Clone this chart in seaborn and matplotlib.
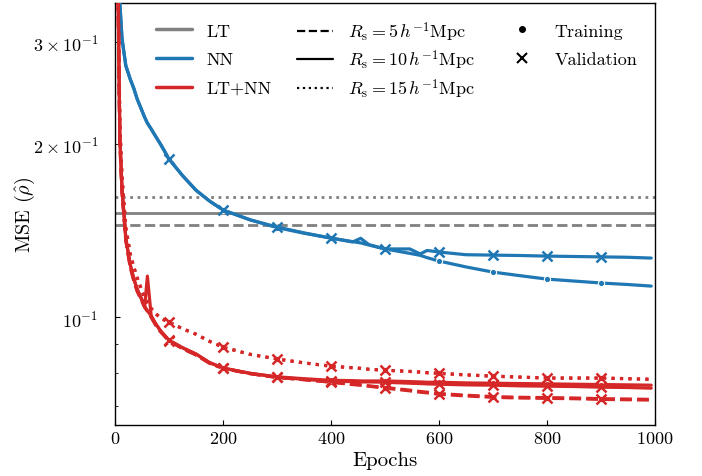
import matplotlib
matplotlib.use("Agg")
import matplotlib.pyplot as plt
import seaborn as sns
import pandas as pd
from matplotlib.lines import Line2D

# ---------------- data ----------------
EPOCHS = [1, 5, 7, 9, 13, 20, 28, 35, 41, 50, 55, 60, 67, 75, 85, 100, 125, 150, 175, 200,
          250, 300, 350, 400, 440, 455, 470, 500, 546, 565, 578, 600, 650, 700, 750, 800,
          850, 900, 950, 993]

RS_VALUES = [5, 10, 15]
LT_MSE = [0.1445, 0.1517, 0.1617]          # linear theory, one per R_s

NN_VAL = [0.70, 0.45, 0.39, 0.35, 0.304, 0.273, 0.259, 0.249, 0.239, 0.228, 0.222, 0.217, 0.212,
          0.206, 0.199, 0.188, 0.176, 0.166, 0.159, 0.1534, 0.1475, 0.1433, 0.1400, 0.1371,
          0.1350, 0.1370, 0.1336, 0.1313, 0.1313, 0.1287, 0.1305, 0.1297, 0.1283, 0.1281,
          0.1279, 0.1276, 0.1274, 0.1272, 0.1270, 0.1266]
NN_TRAIN = [0.70, 0.45, 0.39, 0.35, 0.304, 0.273, 0.259, 0.249, 0.239, 0.228, 0.222, 0.217, 0.212,
            0.206, 0.199, 0.188, 0.176, 0.166, 0.159, 0.1534, 0.1475, 0.1430, 0.1398, 0.1371,
            0.1352, 0.1345, 0.1334, 0.1313, 0.1290, 0.1280, 0.1268, 0.1251, 0.1222, 0.1197,
            0.1180, 0.1164, 0.1155, 0.1146, 0.1139, 0.1132]

LTNN_VAL_5 = [0.95, 0.41, 0.285, 0.200, 0.165, 0.136, 0.1225, 0.1155, 0.1110, 0.1065, 0.1040,
              0.1025, 0.1000, 0.0970, 0.0942, 0.0910, 0.0882, 0.0860, 0.0832, 0.0815, 0.0798,
              0.0786, 0.0779, 0.0771, 0.0764, 0.0762, 0.0759, 0.0753, 0.0745, 0.0741, 0.0739,
              0.0735, 0.0730, 0.0726, 0.0724, 0.0723, 0.0722, 0.0720, 0.0719, 0.0718]
LTNN_TRAIN_5 = [0.95, 0.41, 0.285, 0.200, 0.165, 0.136, 0.1225, 0.1155, 0.1110, 0.1065, 0.1040,
                0.1025, 0.1000, 0.0970, 0.0942, 0.0910, 0.0882, 0.0860, 0.0832, 0.0815, 0.0798,
                0.0786, 0.0779, 0.0772, 0.0765, 0.0763, 0.0760, 0.0755, 0.0747, 0.0743, 0.0741,
                0.0737, 0.0732, 0.0728, 0.0726, 0.0725, 0.0724, 0.0722, 0.0721, 0.0720]

LTNN_VAL_10 = [0.95, 0.42, 0.29, 0.205, 0.167, 0.137, 0.1235, 0.1164, 0.1118, 0.1070, 0.1045,
               0.1178, 0.1005, 0.0975, 0.0945, 0.0912, 0.0885, 0.0863, 0.0834, 0.0816, 0.0799,
               0.0787, 0.0780, 0.0774, 0.0773, 0.0772, 0.0772, 0.0771, 0.0768, 0.0767, 0.0766,
               0.0765, 0.0763, 0.0762, 0.0760, 0.0759, 0.0758, 0.0756, 0.0755, 0.0753]
LTNN_TRAIN_10 = [0.95, 0.42, 0.29, 0.205, 0.167, 0.137, 0.1235, 0.1164, 0.1118, 0.1070, 0.1045,
                 0.1025, 0.1005, 0.0975, 0.0945, 0.0912, 0.0885, 0.0863, 0.0834, 0.0816, 0.0799,
                 0.0788, 0.0782, 0.0777, 0.0776, 0.0775, 0.0775, 0.0775, 0.0773, 0.0772, 0.0771,
                 0.0771, 0.0769, 0.0768, 0.0767, 0.0766, 0.0765, 0.0764, 0.0763, 0.0762]

LTNN_VAL_15 = [0.95, 0.43, 0.30, 0.215, 0.175, 0.143, 0.129, 0.122, 0.117, 0.111, 0.108, 0.106,
               0.1035, 0.1015, 0.0995, 0.0980, 0.0955, 0.0934, 0.0908, 0.0887, 0.0862, 0.0846,
               0.0833, 0.0822, 0.0817, 0.0815, 0.0812, 0.0809, 0.0805, 0.0803, 0.0801, 0.0799,
               0.0794, 0.0790, 0.0787, 0.0784, 0.0784, 0.0784, 0.0782, 0.0780]
LTNN_TRAIN_15 = [0.95, 0.43, 0.30, 0.215, 0.175, 0.143, 0.129, 0.122, 0.117, 0.111, 0.108, 0.106,
                 0.1035, 0.1015, 0.0995, 0.0980, 0.0955, 0.0934, 0.0908, 0.0887, 0.0862, 0.0846,
                 0.0833, 0.0822, 0.0817, 0.0815, 0.0812, 0.0809, 0.0805, 0.0803, 0.0801, 0.0799,
                 0.0794, 0.0790, 0.0787, 0.0784, 0.0784, 0.0784, 0.0782, 0.0780]

MODEL_LABELS = ["LT", "NN", "LT+NN"]
SPLIT_LABELS = ["Training", "Validation"]

# ---------------- style ----------------
sns.set_style("ticks")
plt.rcParams.update({
    "font.family": "serif",
    "font.serif": ["cmr10", "DejaVu Serif"],
    "mathtext.fontset": "cm",
    "axes.formatter.use_mathtext": True,
    "font.size": 13,
    "xtick.labelsize": 13,
    "ytick.labelsize": 13,
    "axes.edgecolor": "black",
    "axes.labelcolor": "black",
    "text.color": "black",
    "xtick.color": "black",
    "ytick.color": "black",
    "xtick.direction": "in",
    "ytick.direction": "in",
    "axes.linewidth": 1.0,
    "xtick.major.size": 3.5,
    "ytick.major.size": 3.5,
    "ytick.minor.size": 2.0,
    "ytick.major.pad": 12,
    "ytick.minor.pad": 12,
})

GREY = "#808080"
BLUE = "#1f77b4"
RED = "#d62728"
STYLES = {5: "--", 10: "-", 15: ":"}

fig = plt.figure(figsize=(7.02, 4.77), dpi=100)
AX_L, AX_T, AX_W, AX_H = 115, 4, 540, 422          # axes box in pixels
ax = fig.add_axes([AX_L / 702, (477 - AX_T - AX_H) / 477, AX_W / 702, AX_H / 477])

for rs, v in zip(RS_VALUES, LT_MSE):
    ax.axhline(v, color=GREY, lw=2, ls=STYLES[rs], zorder=1)

mark_idx = [i for i, e in enumerate(EPOCHS) if e % 100 == 0]


def draw(y, color, ls, split):
    df = pd.DataFrame({"epoch": EPOCHS, "mse": y})
    if split == "Validation":
        mk = dict(marker="x", markersize=7, markeredgewidth=1.8, markeredgecolor=color)
    else:
        mk = dict(marker=".", markersize=9, markeredgewidth=0.75, markeredgecolor="w")
    sns.lineplot(data=df, x="epoch", y="mse", ax=ax, color=color, lw=2.3, ls=ls,
                 markevery=mark_idx, legend=False, zorder=3, **mk)


draw(NN_TRAIN, BLUE, "-", "Training")
draw(NN_VAL, BLUE, "-", "Validation")
draw(LTNN_TRAIN_5, RED, STYLES[5], "Training")
draw(LTNN_VAL_5, RED, STYLES[5], "Validation")
draw(LTNN_TRAIN_10, RED, STYLES[10], "Training")
draw(LTNN_VAL_10, RED, STYLES[10], "Validation")
draw(LTNN_TRAIN_15, RED, STYLES[15], "Training")
draw(LTNN_VAL_15, RED, STYLES[15], "Validation")

ax.set_yscale("log")
ax.set_xlim(0, 1000)
ax.set_ylim(0.0650, 0.3506)
ax.set_xlabel("Epochs", fontsize=15)
ax.set_ylabel(r"MSE ($\hat{\rho}$)", fontsize=14.5)
ax.yaxis.set_label_coords((37 - AX_L) / AX_W, 0.5)

# ---------------- legends (three columns with aligned rows) ----------------
model_handles = [
    Line2D([], [], color=GREY, lw=2.5, label=MODEL_LABELS[0]),
    Line2D([], [], color=BLUE, lw=2.5, label=MODEL_LABELS[1]),
    Line2D([], [], color=RED, lw=2.5, label=MODEL_LABELS[2]),
]
rs_handles = [Line2D([], [], color="black", lw=1.6, ls=STYLES[rs],
                     label=r"$R_{\rm s} = %d\,h^{-1}{\rm Mpc}$" % rs) for rs in RS_VALUES]
split_handles = [
    Line2D([], [], color="black", ls="none", marker=".", markersize=8, label=SPLIT_LABELS[0]),
    Line2D([], [], color="black", ls="none", marker="x", markersize=7, markeredgewidth=1.5,
           label=SPLIT_LABELS[1]),
]


def ax_pt(px, py):
    return ((px - AX_L) / AX_W, (AX_T + AX_H - py) / AX_H)


common = dict(frameon=False, loc="upper left", borderaxespad=0, borderpad=0, fontsize=13)
leg1 = ax.legend(handles=model_handles, bbox_to_anchor=ax_pt(156, 24), labelspacing=0.72,
                 **common)
ax.add_artist(leg1)
leg2 = ax.legend(handles=rs_handles, bbox_to_anchor=ax_pt(297, 20), labelspacing=0.28,
                 **common)
ax.add_artist(leg2)
leg3 = ax.legend(handles=split_handles, bbox_to_anchor=ax_pt(504, 24), labelspacing=0.72,
                 **common)

fig.savefig("out.png", dpi=100)
